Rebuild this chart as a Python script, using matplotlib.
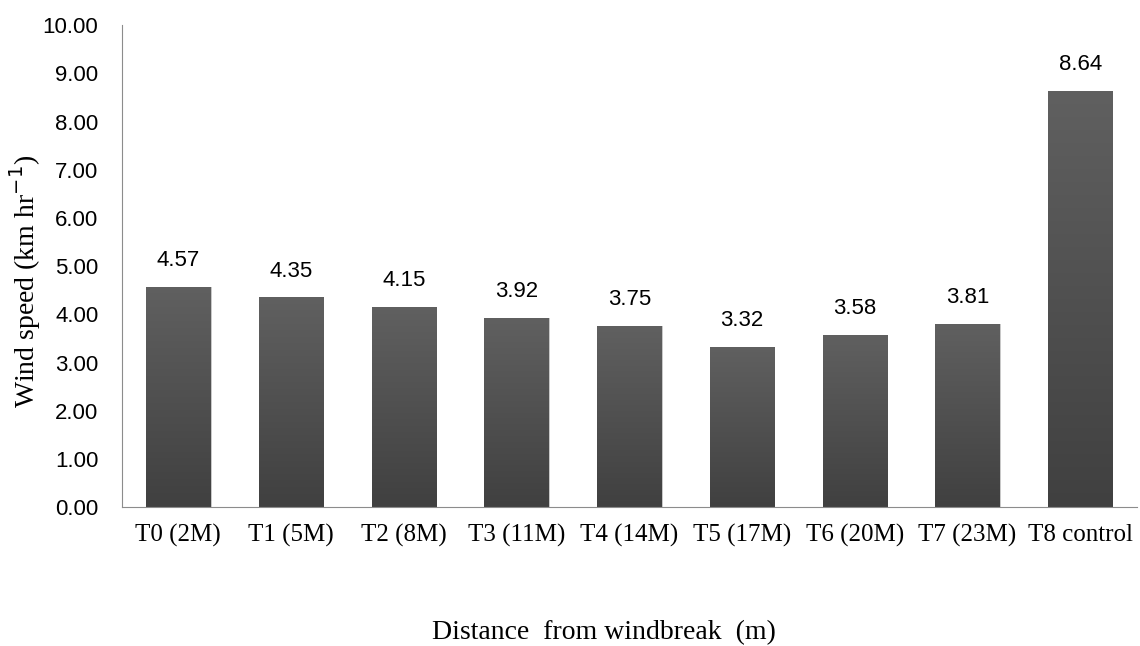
import numpy as np
import matplotlib
matplotlib.use("Agg")
import matplotlib.pyplot as plt

categories = ["T0 (2M)", "T1 (5M)", "T2 (8M)", "T3 (11M)", "T4 (14M)",
              "T5 (17M)", "T6 (20M)", "T7 (23M)", "T8 control"]
wind_speed = [4.57, 4.35, 4.15, 3.92, 3.75, 3.32, 3.58, 3.81, 8.64]
y_ticks = [0, 1, 2, 3, 4, 5, 6, 7, 8, 9, 10]

plt.rcParams['font.family'] = ['Liberation Serif', 'DejaVu Serif']
num_font = ['Liberation Sans', 'DejaVu Sans']

fig = plt.figure(figsize=(11.4, 6.46), dpi=100)
ax = fig.add_axes([0.107, 0.215, 0.89, 0.746])

x = np.arange(len(categories))
bars = ax.bar(x, wind_speed, width=0.57, color='none', edgecolor='none', zorder=2)

# vertical gradient fill: lighter grey at top, darker at bottom
grad = np.linspace(0, 1, 256).reshape(-1, 1)
cmap = matplotlib.colors.LinearSegmentedColormap.from_list("g", ["#404040", "#606060"])
for b in bars:
    x0, w, h = b.get_x(), b.get_width(), b.get_height()
    # soft shadow
    ax.add_patch(plt.Rectangle((x0 + 0.01, 0), w, h, facecolor="#c8c8c8",
                               edgecolor='none', zorder=1))
    im = ax.imshow(grad, cmap=cmap, aspect='auto', origin='lower',
                   extent=(x0, x0 + w, 0, h), zorder=2)
    im.set_clip_path(b)

for xi, v in zip(x, wind_speed):
    ax.text(xi, v + 0.33, f"{v:.2f}", ha='center', va='bottom',
            fontsize=16, family=num_font)

ax.set_xlim(-0.5, len(categories) - 0.5)
ax.set_ylim(0, 10)
ax.set_yticks(y_ticks)
ax.set_yticklabels([f"{t:.2f}" for t in y_ticks], family=num_font, fontsize=16)
ax.set_xticks(x)
ax.set_xticklabels(categories, fontsize=18)
ax.tick_params(axis='y', length=0, pad=17)
ax.tick_params(axis='x', length=0, pad=12)

for s in ['top', 'right']:
    ax.spines[s].set_visible(False)
ax.spines['left'].set_color('#8c8c8c')
ax.spines['bottom'].set_color('#8c8c8c')

fig.text(0.022, 0.565, "Wind speed (km hr$^{-1}$)", rotation=90,
         ha='center', va='center', fontsize=20)
fig.text(0.53, 0.002, "Distance  from windbreak  (m)", ha='center', va='bottom', fontsize=20)

fig.savefig("out.png", dpi=100)
